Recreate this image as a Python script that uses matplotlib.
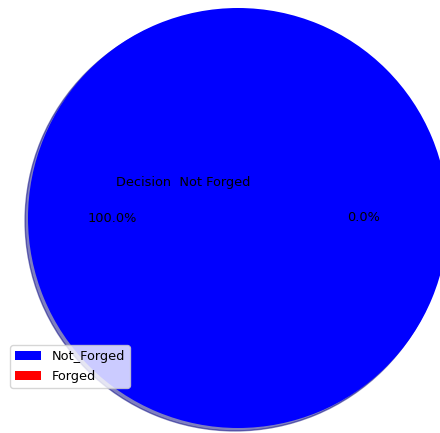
import matplotlib
matplotlib.use("Agg")
import matplotlib.pyplot as plt

labels = ["Not_Forged", "Forged"]
values = [100.0, 0.0]
colors = ["blue", "red"]
decision_text = "Decision  Not Forged"

plt.rcParams["font.size"] = 9.3

fig = plt.figure(figsize=(4.40, 4.33), dpi=100)
ax = fig.add_axes([0, 0, 1, 1])
W, H = 440, 433
cx, cy, r = 238, 218, 210
wedges, texts, autotexts = ax.pie(values, colors=colors, autopct="%1.1f%%",
                                  shadow={"ox": -0.01, "oy": -0.01, "shade": 0.5},
                                  startangle=0, pctdistance=0.6)
ax.set_xlim(-cx / r, (W - cx) / r)
ax.set_ylim(-(H - cy) / r, cy / r)
ax.set_aspect("equal")
ax.axis("off")
ax.text(-(238 - 183) / r, (218 - 183) / r, decision_text, ha="center", va="center")
ax.legend(wedges, labels, loc="lower left",
          bbox_to_anchor=(10 / W, (H - 388) / H), borderaxespad=0)
fig.savefig("out.png", dpi=100)
